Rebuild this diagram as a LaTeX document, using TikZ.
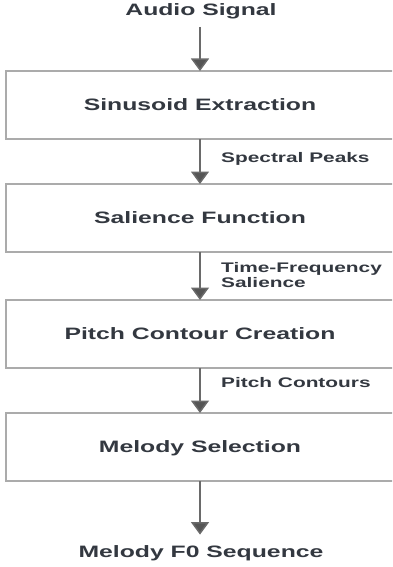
\documentclass[tikz,border=0pt]{standalone}
\usepackage{fontspec}
\usetikzlibrary{arrows.meta}
\newfontfamily\diagfont{Liberation Sans}[FakeStretch=1.5]
\definecolor{txt}{HTML}{333840}
\definecolor{wire}{HTML}{6A6A6A}
\definecolor{tip}{HTML}{555555}
\definecolor{frame}{HTML}{ABABAB}
\tikzset{
  stage/.style={draw=frame, line width=1.5pt, rectangle, minimum width=388pt,
    minimum height=68pt, inner sep=0pt, outer sep=0pt, text=txt,
    font=\diagfont\bfseries\fontsize{16.5}{19}\selectfont,
    text height=11.8pt, text depth=0pt},
  endpoint/.style={text=txt, inner xsep=0pt, inner ysep=11pt, outer sep=0pt,
    font=\diagfont\bfseries\fontsize{16.5}{19}\selectfont,
    text height=11.8pt, text depth=0pt},
  flowlabel/.style={text=txt, inner sep=0pt, align=left,
    font=\diagfont\bfseries\fontsize{13.9}{15}\selectfont},
  flow/.style={draw=wire, line width=1.5pt,
    -{Triangle[width=18pt,length=12.5pt,fill=tip]}},
}
\begin{document}
\begin{tikzpicture}[x=1pt,y=-1pt]
  \useasboundingbox (0,0) rectangle (392,567);
  \clip (0,0) rectangle (392,567);

  % inputs, stages and output
  \node[endpoint] (in)  at (201,10)   {Audio Signal};
  \node[stage]    (s1)  at (200,105)  {Sinusoid Extraction};
  \node[stage]    (s2)  at (200,218)  {Salience Function};
  \node[stage]    (s3)  at (200,334)  {Pitch Contour Creation};
  \node[stage]    (s4)  at (200,447)  {Melody Selection};
  \node[endpoint] (out) at (201,551.5){Melody F0 Sequence};

  % connectors
  \draw[flow] (in.south -| s1.north) -- (s1.north);
  \draw[flow] (s1.south) -- (s2.north);
  \draw[flow] (s2.south) -- (s3.north);
  \draw[flow] (s3.south) -- (s4.north);
  \draw[flow] (s4.south) -- (out.north -| s4.south);

  % connector labels (base anchor sits on the last line)
  \node[flowlabel, anchor=base west] (l1) at (221,162.5) {Spectral Peaks};
  \node[flowlabel, anchor=base west] (l2) at (221,287.7) {Time-Frequency\\Salience};
  \node[flowlabel, anchor=base west] (l3) at (221,387.7) {Pitch Contours};
\end{tikzpicture}
\end{document}
